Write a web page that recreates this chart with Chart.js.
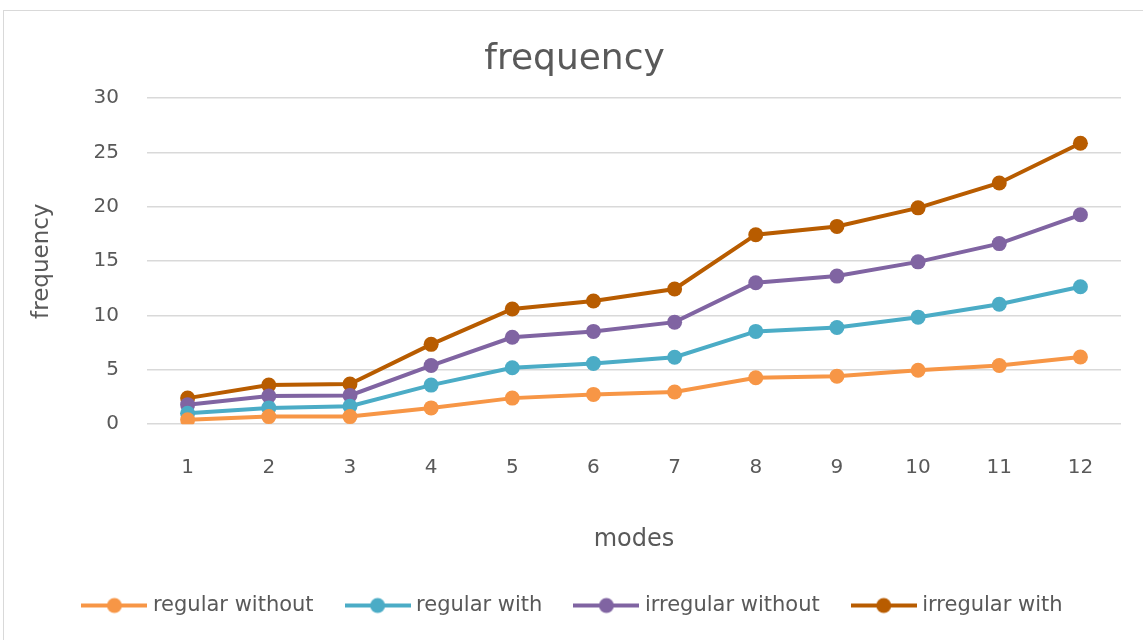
<!DOCTYPE html>
<html>
<head>
<meta charset="utf-8">
<script src="https://cdn.jsdelivr.net/npm/chart.js@4"></script>
<style>
html,body{margin:0;padding:0;background:#fff;}
#wrap{position:absolute;left:3px;top:10px;width:1140px;height:630px;border-left:1px solid #d9d9d9;border-top:1px solid #d9d9d9;box-sizing:border-box;}
#c{position:absolute;left:0;top:0;}
</style>
</head>
<body>
<div id="wrap"><canvas id="c" width="1139" height="629"></canvas></div>
<script>
const categories = ['1','2','3','4','5','6','7','8','9','10','11','12'];
const regularWithout   = [0.4, 0.7, 0.7, 1.5, 2.4, 2.74, 2.96, 4.27, 4.42, 4.97, 5.4, 6.19];
const regularWith      = [1.0, 1.5, 1.65, 3.6, 5.2, 5.58, 6.16, 8.54, 8.9, 9.85, 11.04, 12.65];
const irregularWithout = [1.8, 2.6, 2.65, 5.4, 8.0, 8.54, 9.39, 13.02, 13.63, 14.94, 16.62, 19.27];
const irregularWith    = [2.4, 3.6, 3.7, 7.35, 10.6, 11.34, 12.44, 17.44, 18.2, 19.91, 22.2, 25.85];
const seriesNames = ['regular without','regular with','irregular without','irregular with'];
const seriesColors = ['#f79646','#4bacc6','#8064a2','#b85c00'];
const yTicks = [0,5,10,15,20,25,30];

const FONT = '"DejaVu Sans", sans-serif';
const TXT = '#595959';

function legendIcon(color){
  const cv = document.createElement('canvas');
  cv.width = 66; cv.height = 18;
  const g = cv.getContext('2d');
  g.strokeStyle = color; g.lineWidth = 4;
  g.beginPath(); g.moveTo(0,9); g.lineTo(66,9); g.stroke();
  g.fillStyle = color; g.beginPath(); g.arc(33,9,7.5,0,Math.PI*2); g.fill();
  return cv;
}

const dataArrays = [regularWithout, regularWith, irregularWithout, irregularWith];
const datasets = dataArrays.map((d,i)=>({
  label: seriesNames[i],
  data: d,
  borderColor: seriesColors[i],
  backgroundColor: seriesColors[i],
  borderWidth: 4,
  pointRadius: 7.5,
  pointHoverRadius: 7.5,
  pointBorderWidth: 0,
  tension: 0
}));

new Chart(document.getElementById('c'), {
  type: 'line',
  data: { labels: categories, datasets },
  options: {
    responsive: false,
    animation: false,
    layout: { padding: { left: 24, right: 22, top: 18, bottom: 14 } },
    plugins: {
      title: {
        display: true, text: 'frequency', color: TXT,
        font: { family: FONT, size: 36, weight: 'normal' },
        padding: { top: 9, bottom: 17 }
      },
      legend: {
        position: 'bottom',
        labels: {
          color: TXT,
          font: { family: FONT, size: 21 },
          usePointStyle: true,
          pointStyleWidth: 56,
          padding: 36,
          generateLabels: (chart) => chart.data.datasets.map((ds,i)=>({
            text: ds.label, fillStyle: ds.borderColor, strokeStyle: ds.borderColor,
            pointStyle: legendIcon(ds.borderColor), datasetIndex: i, hidden: false, fontColor: TXT
          }))
        }
      },
      tooltip: { enabled: false }
    },
    scales: {
      x: {
        offset: true,
        grid: { display: false, drawTicks: false },
        border: { display: false },
        ticks: { color: TXT, font: { family: FONT, size: 20 }, padding: 32 },
        title: { display: true, text: 'modes', color: TXT, font: { family: FONT, size: 24 }, padding: { top: 13, bottom: 5 } }
      },
      y: {
        min: 0, max: 30,
        afterBuildTicks: (axis) => { axis.ticks = yTicks.map(v=>({value:v})); },
        grid: { color: '#d9d9d9', lineWidth: 1.5, drawTicks: false },
        border: { display: false },
        ticks: { color: TXT, font: { family: FONT, size: 20 }, padding: 28 },
        title: { display: true, text: 'frequency', color: TXT, font: { family: FONT, size: 23 }, padding: { top: 0, bottom: 10 } }
      }
    }
  }
});
</script>
</body>
</html>
